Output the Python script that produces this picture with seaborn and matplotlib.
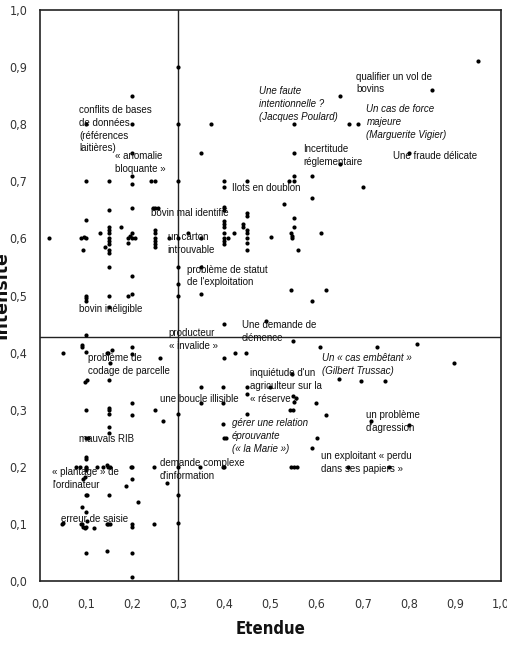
import matplotlib
matplotlib.use("Agg")
import matplotlib.pyplot as plt
import seaborn as sns
import pandas as pd
import numpy as np

# ---------------- data ----------------
etendue = [
    0.20, 0.10, 0.20, 0.20, 0.20, 0.10, 0.15, 0.20, 0.24, 0.25,
    0.37, 0.35, 0.40, 0.40, 0.45,
    0.30, 0.30, 0.30,
    0.95, 0.85, 0.65, 0.67, 0.69, 0.55, 0.55, 0.80, 0.65,
    0.55, 0.54, 0.55, 0.59, 0.70, 0.59,
    0.02, 0.15, 0.20, 0.10, 0.13, 0.09, 0.095, 0.10, 0.094,
    0.15, 0.15, 0.15, 0.15, 0.15, 0.15, 0.15, 0.15,
    0.14, 0.175, 0.19, 0.195, 0.20, 0.20, 0.205, 0.19,
    0.15, 0.20, 0.10, 0.10, 0.10, 0.15, 0.19, 0.20, 0.15, 0.10,
    0.25, 0.25, 0.25, 0.25, 0.25, 0.25,
    0.245, 0.25, 0.255,
    0.28, 0.30, 0.32, 0.35, 0.30, 0.30, 0.30, 0.35, 0.35, 0.40,
    0.40, 0.40, 0.40, 0.40, 0.40, 0.40, 0.40, 0.40, 0.40, 0.407, 0.42,
    0.44, 0.44, 0.45, 0.45, 0.45, 0.45, 0.45, 0.45, 0.45,
    0.53, 0.55, 0.55, 0.545, 0.547, 0.546, 0.50, 0.61, 0.56,
    0.544, 0.62, 0.59, 0.49,
    0.05, 0.092, 0.092, 0.10, 0.145, 0.148, 0.157, 0.152, 0.20, 0.20, 0.26,
    0.102, 0.097, 0.15, 0.20, 0.10, 0.15, 0.15, 0.15, 0.20, 0.25, 0.267, 0.30,
    0.15, 0.15, 0.10, 0.105, 0.10, 0.10,
    0.078, 0.087, 0.10, 0.10, 0.123, 0.137, 0.145, 0.148, 0.152, 0.198, 0.20, 0.248, 0.30, 0.347, 0.397, 0.40,
    0.35, 0.35, 0.396, 0.397, 0.448, 0.449, 0.448, 0.397, 0.40, 0.403, 0.40, 0.423, 0.446,
    0.549, 0.607, 0.73, 0.818, 0.899, 0.547, 0.649, 0.697, 0.749,
    0.498, 0.549, 0.556, 0.551, 0.542, 0.549, 0.598, 0.62, 0.719, 0.80, 0.60, 0.589,
    0.545, 0.551, 0.557, 0.668, 0.758,
    0.047, 0.05, 0.09, 0.092, 0.094, 0.097, 0.10, 0.101, 0.10, 0.092, 0.118,
    0.145, 0.148, 0.152, 0.199, 0.20, 0.248, 0.30,
    0.10, 0.102, 0.15, 0.212, 0.30, 0.094, 0.098, 0.10, 0.186, 0.20, 0.275,
    0.10, 0.146, 0.20, 0.20,
]
intensite = [
    0.85, 0.80, 0.80, 0.75, 0.71, 0.70, 0.70, 0.695, 0.70, 0.70,
    0.80, 0.75, 0.70, 0.69, 0.70,
    0.90, 0.80, 0.70,
    0.91, 0.86, 0.85, 0.80, 0.80, 0.80, 0.75, 0.75, 0.73,
    0.71, 0.70, 0.70, 0.71, 0.69, 0.67,
    0.60, 0.65, 0.654, 0.632, 0.61, 0.60, 0.603, 0.60, 0.58,
    0.62, 0.615, 0.61, 0.60, 0.595, 0.59, 0.58, 0.575,
    0.585, 0.62, 0.60, 0.605, 0.61, 0.60, 0.60, 0.592,
    0.55, 0.534, 0.50, 0.495, 0.49, 0.50, 0.50, 0.503, 0.48, 0.43,
    0.615, 0.61, 0.60, 0.595, 0.59, 0.585,
    0.654, 0.654, 0.654,
    0.60, 0.60, 0.61, 0.60, 0.55, 0.52, 0.50, 0.55, 0.502, 0.45,
    0.655, 0.65, 0.63, 0.625, 0.62, 0.61, 0.60, 0.595, 0.59, 0.60, 0.61,
    0.62, 0.625, 0.645, 0.64, 0.615, 0.61, 0.60, 0.592, 0.58,
    0.66, 0.635, 0.62, 0.61, 0.605, 0.60, 0.603, 0.61, 0.58,
    0.51, 0.51, 0.49, 0.455,
    0.40, 0.413, 0.41, 0.401, 0.40, 0.40, 0.404, 0.381, 0.41, 0.398, 0.391,
    0.352, 0.349, 0.352, 0.312, 0.30, 0.303, 0.30, 0.293, 0.29, 0.30, 0.28, 0.293,
    0.269, 0.259, 0.25, 0.25, 0.218, 0.213,
    0.20, 0.20, 0.20, 0.198, 0.20, 0.20, 0.203, 0.20, 0.20, 0.20, 0.20, 0.20, 0.20, 0.20, 0.20, 0.20,
    0.34, 0.312, 0.34, 0.312, 0.34, 0.327, 0.292, 0.275, 0.251, 0.251, 0.391, 0.40, 0.40,
    0.42, 0.41, 0.41, 0.415, 0.381, 0.363, 0.353, 0.35, 0.35,
    0.34, 0.324, 0.32, 0.314, 0.30, 0.30, 0.312, 0.29, 0.28, 0.274, 0.251, 0.233,
    0.20, 0.20, 0.20, 0.20, 0.20,
    0.099, 0.102, 0.10, 0.10, 0.095, 0.093, 0.095, 0.105, 0.12, 0.13, 0.092,
    0.10, 0.10, 0.10, 0.10, 0.095, 0.10, 0.102,
    0.151, 0.151, 0.15, 0.138, 0.15, 0.178, 0.183, 0.194, 0.166, 0.179, 0.171,
    0.049, 0.052, 0.049, 0.007,
]

label_texts = [
    "conflits de bases\nde données\n(références\nlaitières)",
    "« anomalie\nbloquante »",
    "Une faute\nintentionnelle ?\n(Jacques Poulard)",
    "qualifier un vol de\nbovins",
    "Un cas de force\nmajeure\n(Marguerite Vigier)",
    "Incertitude\nréglementaire",
    "Une fraude délicate",
    "Ilots en doublon",
    "bovin mal identifié",
    "un carton\nintrouvable",
    "problème de statut\nde l'exploitation",
    "bovin inéligible",
    "producteur\n« invalide »",
    "Une demande de\nclémence",
    "problème de\ncodage de parcelle",
    "inquiétude d'un\nagriculteur sur la\n« réserve »",
    "Un « cas embêtant »\n(Gilbert Trussac)",
    "une boucle illisible",
    "gérer une relation\néprouvante\n(« la Marie »)",
    "un problème\nd'agression",
    "mauvais RIB",
    "demande complexe\nd'information",
    "un exploitant « perdu\ndans ses papiers »",
    "« plantage » de\nl'ordinateur",
    "erreur de saisie",
]
label_x = [0.0845, 0.1625, 0.4745, 0.686, 0.708, 0.5705, 0.7656, 0.4167, 0.2405,
           0.277, 0.318, 0.0845, 0.2795, 0.438, 0.1033, 0.455, 0.611, 0.26,
           0.4167, 0.7064, 0.0845, 0.26, 0.610, 0.0267, 0.0455]
label_y = [0.8335, 0.753, 0.867, 0.892, 0.835, 0.765, 0.753, 0.697, 0.653,
           0.611, 0.554, 0.485, 0.443, 0.457, 0.399, 0.3727, 0.399, 0.327,
           0.285, 0.2991, 0.257, 0.215, 0.227, 0.200, 0.117]
label_italic = [False, False, True, False, True, False, False, False, False,
                False, False, False, False, False, False, False, True, False,
                True, False, False, False, False, False, False]

x_ticks = [0.0, 0.1, 0.2, 0.3, 0.4, 0.5, 0.6, 0.7, 0.8, 0.9, 1.0]
y_ticks = [0.0, 0.1, 0.2, 0.3, 0.4, 0.5, 0.6, 0.7, 0.8, 0.9, 1.0]
x_cross = 0.3
y_cross = 0.428

# ---------------- plot ----------------
sns.set_theme(style="white")
plt.rcParams['font.family'] = ['Liberation Sans', 'DejaVu Sans']

W, H = 507, 649
fig = plt.figure(figsize=(W / 100, H / 100), dpi=100)
ax = fig.add_axes([40 / W, (H - 581) / H, 461 / W, 571 / H])

df = pd.DataFrame({"Etendue": etendue, "Intensité": intensite})
sns.scatterplot(data=df, x="Etendue", y="Intensité", ax=ax, color="black",
                s=9, linewidth=0, zorder=3)

ax.set_xlim(0, 1)
ax.set_ylim(0, 1)
ax.axvline(x_cross, color="#222222", lw=1.0, zorder=2)
ax.axhline(y_cross, color="#222222", lw=1.0, zorder=2)

for sp in ax.spines.values():
    sp.set_color("#222222")
    sp.set_linewidth(1.2)

tick_font = ['DejaVu Sans']
ax.set_xticks(x_ticks)
ax.set_yticks(y_ticks)
ax.set_xticklabels([f"{v:.1f}".replace(".", ",") for v in x_ticks],
                   fontsize=9, family=tick_font, fontstretch="condensed",
                   color="#333333")
ax.set_yticklabels([f"{v:.1f}".replace(".", ",") for v in y_ticks],
                   fontsize=9, family=tick_font, fontstretch="condensed",
                   color="#333333")
ax.tick_params(axis="x", length=0, pad=12)
ax.tick_params(axis="y", length=0, pad=9)

ax.set_xlabel("")
ax.set_ylabel("")
fig.text(270.5 / W, 1 - 629 / H, "Etendue", ha="center", va="center",
         fontsize=12, fontweight="bold", family=tick_font,
         fontstretch="condensed", color="#111111")
fig.text(10 / W, 1 - 295 / H, "Intensité", ha="right", va="center",
         rotation=90, fontsize=12.5, fontweight="bold", family=tick_font,
         color="#111111")

for t, lx, ly, it in zip(label_texts, label_x, label_y, label_italic):
    ax.text(lx, ly, t, ha="left", va="top", fontsize=7,
            style="italic" if it else "normal", color="#111111",
            linespacing=1.35, zorder=4)

fig.savefig("out.png", dpi=100)
